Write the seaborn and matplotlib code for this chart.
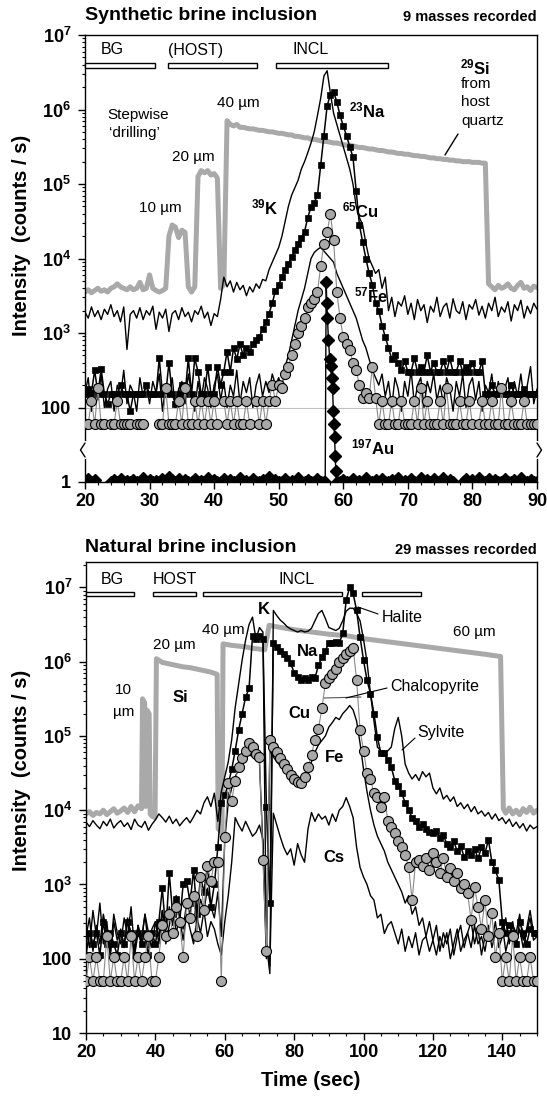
import numpy as np
import matplotlib
matplotlib.use("Agg")
import matplotlib.pyplot as plt
import seaborn as sns
from matplotlib.patches import Rectangle
from matplotlib.lines import Line2D
from matplotlib.ticker import FixedLocator, FixedFormatter, MultipleLocator, LogLocator, NullFormatter

# ---------------------------------------------------------------- data
# Top panel (synthetic brine inclusion): log10 intensities every 0.5 s from 20 s
T0_TOP, DT_TOP = 20.0, 0.5
si_top_log = [
    3.55, 3.58, 3.54, 3.57, 3.60, 3.56, 3.58, 3.55, 3.60, 3.62,
    3.66, 3.62, 3.60, 3.58, 3.62, 3.58, 3.60, 3.68, 3.58, 3.60,
    3.78, 3.60, 3.57, 3.55, 3.57, 3.60, 4.30, 4.45, 4.42, 4.28,
    4.38, 4.35, 3.62, 3.55, 3.62, 5.10, 5.18, 5.15, 5.18, 5.12,
    5.14, 5.08, 3.60, 3.65, 5.85, 5.80, 5.78, 5.80, 5.76, 5.76,
    5.75, 5.74, 5.74, 5.73, 5.72, 5.72, 5.71, 5.70, 5.70, 5.69,
    5.68, 5.68, 5.67, 5.66, 5.66, 5.64, 5.64, 5.63, 5.62, 5.62,
    5.60, 5.60, 5.59, 5.58, 5.57, 5.57, 5.56, 5.55, 5.55, 5.54,
    5.53, 5.52, 5.52, 5.51, 5.50, 5.49, 5.49, 5.48, 5.47, 5.47,
    5.46, 5.45, 5.45, 5.44, 5.43, 5.43, 5.42, 5.41, 5.41, 5.40,
    5.40, 5.39, 5.38, 5.38, 5.37, 5.37, 5.36, 5.35, 5.35, 5.34,
    5.34, 5.33, 5.33, 5.32, 5.32, 5.31, 5.31, 5.30, 5.30, 5.30,
    5.29, 5.29, 5.29, 5.28, 5.28, 3.66, 3.62, 3.58, 3.64, 3.60,
    3.62, 3.66, 3.60, 3.58, 3.64, 3.68, 3.60, 3.62, 3.57, 3.63,
    3.61]
k_top_log = [
    3.28, 3.20, 3.35, 3.22, 3.30, 3.18, 3.32, 3.25, 3.38, 3.22,
    3.30, 3.15, 3.35, 2.78, 3.25, 3.30, 3.20, 3.34, 3.18, 3.30,
    3.24, 3.36, 3.05, 3.28, 3.20, 3.32, 3.02, 3.26, 3.30, 3.18,
    3.34, 3.22, 3.28, 3.15, 3.30, 3.25, 3.36, 3.20, 3.28, 3.10,
    3.26, 3.22, 3.45, 3.75, 3.62, 3.70, 3.55, 3.68, 3.58, 3.64,
    3.50, 3.62, 3.55, 3.66, 3.60, 3.72, 3.70, 3.85, 3.95, 4.05,
    4.15, 4.30, 4.50, 4.70, 4.85, 4.95, 5.05, 5.20, 5.30, 5.42,
    5.55, 5.70, 5.92, 6.15, 6.45, 6.52, 6.22, 5.95, 5.80, 5.65,
    5.50, 5.35, 5.20, 5.00, 4.70, 4.55, 4.45, 4.20, 4.00, 3.90,
    3.80, 3.85, 3.60, 3.75, 3.30, 3.48, 3.22, 3.42, 3.36, 3.50,
    3.25, 3.40, 3.18, 3.45, 3.30, 3.38, 3.14, 3.36, 3.28, 3.48,
    3.22, 3.35, 3.40, 3.20, 3.46, 3.30, 3.26, 3.42, 3.18, 3.38,
    3.32, 3.45, 3.24, 3.36, 3.20, 3.40, 3.30, 3.48, 3.22, 3.35,
    3.28, 3.42, 3.16, 3.38, 3.30, 3.44, 3.20, 3.36, 3.26, 3.40,
    3.32]
na_top_log = [
    2.18, 2.25, 2.20, 2.50, 2.18, 2.52, 2.18, 2.05, 2.18, 2.18,
    2.18, 2.30, 2.18, 2.18, 1.95, 2.18, 2.18, 2.18, 2.18, 2.30,
    2.18, 2.18, 2.18, 2.66, 2.18, 2.18, 2.60, 2.18, 2.05, 2.18,
    2.30, 2.18, 2.66, 2.18, 2.66, 2.48, 2.18, 2.18, 2.55, 2.18,
    2.18, 2.55, 2.30, 2.48, 2.75, 2.48, 2.80, 2.65, 2.85, 2.70,
    2.80, 2.75, 2.85, 2.90, 2.95, 3.05, 3.15, 3.26, 3.40, 3.57,
    3.65, 3.75, 3.85, 3.92, 4.02, 4.11, 4.20, 4.28, 4.36, 4.55,
    4.69, 4.75, 4.85, 5.25, 5.65, 6.05, 6.20, 6.24, 6.10, 5.92,
    5.78, 5.65, 5.50, 5.36, 4.90, 4.45, 4.22, 4.00, 3.80, 3.65,
    3.40, 3.30, 3.10, 2.95, 2.80, 2.65, 2.70, 2.60, 2.50, 2.62,
    2.48, 2.48, 2.66, 2.48, 2.55, 2.48, 2.70, 2.48, 2.60, 2.48,
    2.48, 2.62, 2.48, 2.66, 2.48, 2.48, 2.62, 2.48, 2.55, 2.48,
    2.60, 2.48, 2.48, 2.62, 2.18, 2.18, 2.30, 2.18, 2.18, 2.25,
    2.18, 2.18, 2.30, 2.18, 2.18, 2.18, 2.25, 2.18, 2.18, 2.18,
    2.18]
nan = float("nan")
cu_top_log = [
    1.78, 1.78, 2.09, 1.78, 2.26, 1.78, 1.78, nan, 1.78, 1.78,
    2.09, 1.78, 1.78, 1.78, 1.78, nan, 1.78, 1.78, 1.78, nan,
    nan, nan, nan, 1.78, 1.78, 2.26, 1.78, 1.78, 1.78, 2.09,
    1.78, 2.26, 1.78, 1.78, 2.09, 1.78, 2.09, 1.78, 2.09, 1.78,
    2.09, 1.78, nan, 2.09, 1.78, 2.09, 1.78, 2.09, 1.78, 1.78,
    2.09, 1.78, nan, 2.09, 1.78, 2.09, 1.78, 2.09, 2.30, 2.09,
    2.30, 2.26, 2.45, 2.55, 2.70, 2.85, 3.00, 3.10, 3.20, 3.35,
    3.40, 3.45, 3.55, 3.90, 4.20, 4.35, 4.60, 4.25, 3.55, 3.20,
    2.94, 2.85, 2.77, 2.60, 2.50, 2.30, 2.13, 2.20, 2.13, 2.55,
    2.13, 1.78, 2.09, 1.78, 1.78, 2.09, 1.78, 1.78, 2.09, 1.78,
    1.78, 1.78, 2.09, 1.78, 2.26, 1.78, 2.09, 1.78, 1.78, 1.78,
    2.09, 1.78, 2.26, 1.78, 1.78, 1.78, 2.09, 1.78, 1.78, 2.09,
    1.78, nan, 1.78, 2.09, 1.78, 1.78, 2.09, 1.78, 1.78, 2.26,
    1.78, 1.78, 2.09, 1.78, 1.78, 1.78, 2.09, 1.78, 1.78, 1.78,
    1.78]
fe_top_log = [
    2.20, 2.40, 1.95, 2.30, 2.10, 2.45, 2.00, 2.25, 2.35, 1.95,
    2.30, 2.15, 2.50, 2.05, 2.30, 2.20, 1.95, 2.40, 2.15, 2.30,
    2.05, 2.35, 2.20, 2.45, 1.95, 2.30, 2.15, 2.40, 2.00, 2.25,
    2.35, 2.05, 2.45, 2.20, 1.95, 2.35, 2.10, 2.40, 2.25, 2.00,
    2.30, 2.45, 2.10, 2.35, 2.00, 2.30, 2.15, 2.50, 2.05, 2.35,
    2.20, 2.40, 2.00, 2.30, 2.45, 2.15, 2.35, 2.20, 2.45, 2.30,
    2.40, 2.25, 2.55, 2.70, 2.90, 3.10, 3.30, 3.45, 3.60, 3.80,
    4.00, 4.08, 4.12, 4.15, 4.10, 4.05, 4.00, 3.95, 3.80, 3.70,
    3.60, 3.50, 3.40, 3.30, 3.20, 3.05, 2.90, 2.80, 2.65, 2.50,
    2.40, 2.30, 2.45, 2.15, 2.35, 2.00, 2.40, 2.25, 1.95, 2.35,
    2.15, 2.50, 2.05, 2.30, 2.40, 2.00, 2.35, 2.20, 2.45, 2.10,
    2.30, 2.05, 2.40, 2.25, 1.95, 2.35, 2.15, 2.45, 2.00, 2.30,
    2.40, 2.10, 2.35, 1.95, 2.30, 2.20, 2.45, 2.05, 2.35, 2.15,
    2.25, 2.40, 2.00, 2.35, 2.15, 2.45, 2.10, 2.30, 2.55, 2.05,
    2.25]
au_top_base = [
    1.0, 1.3, 1.0, 1.2, nan, nan, nan, nan, 1.0, 1.2,
    1.0, 1.3, 1.0, 1.1, 1.0, 1.2, 1.0, 1.0, 1.5, 1.0,
    1.2, 1.0, 1.1, 1.0, 1.3, 1.0, 1.6, 1.2, 1.0, 1.3,
    1.0, 1.2, 1.0, 1.0, 1.3, 1.0, 1.1, 1.0, 1.4, 1.0,
    1.2, 1.0, 1.0, 1.3, 1.0, 1.2, 1.0, 1.0, 1.4, 1.0,
    1.1, 1.0, 1.3, 1.0, 1.0, 1.2, 1.0, 1.6, 1.0, 1.2,
    1.0, 1.0, 1.3, 1.0, 1.1, 1.0, 1.4, 1.0, 1.0, 1.2,
    1.0, 1.0, 1.3, 1.0, 1.0, nan, nan, nan, nan, 1.0,
    1.2, 1.0, 1.0, 1.3, 1.0, 1.1, 1.0, 1.4, 1.0, 1.0,
    1.2, 1.0, 1.3, 1.0, 1.0, 1.2, 1.0, 1.4, 1.0, 1.1,
    1.0, 1.3, 1.0, 1.0, 1.4, 1.0, 1.2, 1.0, 1.3, 1.0,
    1.0, 1.4, 1.0, 1.2, 1.0, nan, nan, 1.0, 1.3, 1.0,
    1.2, 1.0, 1.4, 1.0, 1.0, 1.3, 1.0, 1.2, 1.0, 1.0,
    1.3, 1.0, 1.0, 1.2, 1.0, 1.4, 1.0, 1.0, 1.2, 1.0,
    1.0]
au_peak_t = [57.2, 57.35, 57.45, 57.55, 57.7, 57.9, 58.05, 58.2, 58.35, 58.45, 58.55, 58.65, 58.75, 58.85, 59.0]
au_peak = [1, 4800, 2500, 1600, 800, 450, 360, 250, 185, 90, 60, 40, 12, 3, 1]

# Bottom panel (natural brine inclusion): log10 intensities every 1 s from 20 s
T0_BOT, DT_BOT = 20.0, 1.0
si_bot_t = [20, 21, 22, 23, 24, 25, 26, 27, 28, 29, 30, 31, 32, 33, 34, 35,
            36.0, 36.3, 36.9, 37.2, 37.5, 38.2, 38.5, 39.0, 39.9,
            40.3, 41, 42, 44, 46, 48, 50, 52, 54, 56, 57.8,
            58.1, 59.2, 59.5, 62, 64, 66, 68, 70, 71.5,
            72.8, 75, 80, 85, 90, 95, 100, 105, 110, 115, 120, 125, 130, 135, 139.5,
            140.3, 141, 142, 143, 144, 145, 146, 147, 148, 149, 150]
si_bot_log = [3.95, 3.98, 3.93, 3.97, 3.95, 4.00, 3.94, 3.98, 4.02, 3.96, 3.99, 4.03, 3.97, 4.05, 3.98, 4.06,
              4.02, 5.50, 5.45, 4.05, 5.35, 5.30, 3.95, 3.92, 3.90,
              6.04, 6.02, 5.99, 5.97, 5.95, 5.93, 5.92, 5.90, 5.88, 5.86, 5.83,
              3.75, 3.70, 6.24, 6.22, 6.21, 6.20, 6.18, 6.17, 6.16,
              6.49, 6.47, 6.43, 6.40, 6.37, 6.35, 6.31, 6.28, 6.25, 6.22, 6.19, 6.16, 6.13, 6.10, 6.07,
              4.02, 3.96, 4.03, 3.95, 4.00, 3.94, 4.02, 3.97, 4.04, 3.96, 4.00]
k_bot_log = [
    3.84, 3.78, 3.86, 3.80, 3.75, 3.85, 3.79, 3.88, 3.76, 3.82,
    3.86, 3.78, 3.83, 3.74, 3.88, 3.80, 3.77, 3.85, 3.73, 3.81,
    3.87, 3.95, 3.90, 3.84, 3.92, 3.82, 3.88, 3.79, 3.85, 3.90,
    3.83, 3.91, 4.00, 3.95, 4.10, 4.18, 4.05, 4.23, 3.85, 4.25,
    4.45, 4.65, 4.95, 5.38, 5.70, 6.02, 6.29, 6.50, 6.60, 6.30,
    6.46, 6.40, 2.20, 1.80, 6.69, 6.62, 6.56, 6.52, 6.47, 6.44,
    6.42, 6.40, 6.42, 6.40, 6.41, 6.45, 6.55, 6.65, 6.69, 6.58,
    6.46, 6.44, 6.42, 6.45, 6.55, 6.68, 6.72, 6.72, 6.65, 6.55,
    6.30, 6.00, 5.57, 5.20, 4.85, 4.80, 4.77, 4.80, 4.85, 5.10,
    5.25, 5.00, 4.62, 4.50, 4.42, 4.48, 4.40, 4.52, 4.45, 4.50,
    4.30, 4.22, 4.30, 4.15, 4.20, 4.12, 4.18, 4.05, 4.10, 4.02,
    4.08, 3.98, 4.05, 3.95, 3.99, 3.92, 3.97, 3.88, 3.95, 3.86,
    3.90, 3.82, 3.88, 3.78, 3.84, 3.76, 3.82, 3.72, 3.80, 3.75,
    3.78]
na_bot_log = [
    2.05, 2.35, 2.20, 2.35, 2.05, 2.50, 2.20, 2.35, 2.20, 2.05,
    2.35, 2.20, 2.50, 2.35, 2.05, 2.35, 2.20, 2.35, 2.05, 2.35,
    2.20, 2.50, 2.95, 2.35, 3.15, 2.60, 2.80, 2.50, 3.00, 3.05,
    2.75, 3.20, 2.60, 3.10, 2.90, 3.25, 2.70, 3.00, 3.50, 4.10,
    4.20, 4.35, 4.55, 4.80, 5.08, 5.30, 5.52, 5.64, 6.35, 6.30,
    6.35, 6.30, 4.04, 2.75, 6.25, 6.20, 6.15, 6.10, 6.05, 5.98,
    5.85, 5.79, 5.76, 5.78, 5.76, 5.80, 5.78, 5.95, 6.06, 6.15,
    6.25, 6.25, 6.26, 6.25, 6.38, 6.83, 7.00, 6.92, 6.69, 6.33,
    6.02, 5.75, 5.57, 5.30, 4.98, 4.77, 4.77, 4.68, 4.58, 4.40,
    4.32, 4.23, 4.10, 4.00, 3.90, 3.85, 3.77, 3.82, 3.75, 3.70,
    3.69, 3.72, 3.62, 3.66, 3.55, 3.50, 3.58, 3.45, 3.52, 3.37,
    3.45, 3.40, 3.48, 3.35, 3.50, 3.42, 3.60, 3.30, 3.19, 3.06,
    2.50, 2.35, 2.45, 2.35, 2.20, 2.50, 2.35, 2.20, 2.40, 2.35,
    2.35]
cu_bot_log = [
    1.70, 2.02, 1.70, 2.02, 1.70, 1.70, 2.30, 1.70, 2.02, 1.70,
    1.70, 2.02, 1.70, 2.30, 1.70, 2.02, 1.70, 2.02, 2.30, 1.70,
    1.70, 2.02, 2.45, 2.30, 2.60, 2.35, 2.70, 2.50, 2.02, 2.75,
    2.55, 2.85, 2.30, 3.10, 2.65, 3.25, 3.05, 3.30, 3.30, 1.70,
    3.64, 4.36, 4.13, 4.40, 4.58, 4.70, 4.80, 4.90, 4.85, 4.76,
    4.72, 3.33, 2.10, 4.94, 4.85, 4.78, 4.70, 4.62, 4.55, 4.48,
    4.42, 4.38, 4.36, 4.45, 4.58, 4.75, 4.95, 5.10, 5.37, 5.71,
    5.78, 5.84, 5.90, 6.00, 6.05, 6.10, 6.15, 6.19, 5.75, 5.08,
    4.80, 4.50, 4.42, 4.23, 4.18, 4.04, 4.18, 3.86, 3.78, 3.69,
    3.58, 3.50, 3.40, 3.23, 2.79, 3.30, 3.33, 3.25, 3.36, 3.20,
    3.42, 3.30, 3.15, 3.36, 3.10, 3.22, 3.05, 3.15, 2.95, 3.00,
    2.88, 2.52, 2.96, 2.70, 2.40, 2.79, 2.30, 2.61, 2.02, 2.34,
    1.70, 2.02, 1.70, 2.30, 1.70, 2.02, 1.70, 1.70, 2.02, 1.70,
    1.70]
fe_bot_log = [
    2.30, 2.55, 2.10, 2.45, 2.20, 2.60, 2.35, 2.05, 2.50, 2.25,
    2.40, 2.15, 2.55, 2.30, 2.05, 2.45, 2.25, 2.60, 2.15, 2.40,
    2.50, 2.20, 2.65, 2.35, 2.70, 2.45, 2.85, 2.55, 2.40, 2.75,
    2.60, 2.90, 2.50, 2.80, 2.65, 2.95, 2.70, 2.55, 2.90, 2.30,
    3.60, 4.10, 4.30, 4.45, 4.55, 4.62, 4.70, 4.75, 4.72, 4.68,
    4.65, 3.50, 2.00, 4.80, 4.72, 4.65, 4.60, 4.55, 4.50, 4.45,
    4.40, 4.35, 4.38, 4.45, 4.55, 4.65, 4.78, 4.88, 4.94, 5.00,
    5.12, 5.18, 5.25, 5.22, 5.30, 5.35, 5.41, 5.35, 5.20, 4.90,
    4.55, 4.25, 4.00, 3.80, 3.65, 3.55, 3.45, 3.30, 3.20, 3.10,
    3.00, 2.90, 2.75, 2.85, 2.60, 2.70, 2.45, 2.55, 2.30, 2.50,
    2.25, 2.45, 2.10, 2.35, 2.20, 2.40, 2.05, 2.30, 2.45, 2.15,
    2.35, 2.50, 2.20, 2.40, 2.05, 2.30, 2.45, 2.15, 2.35, 2.25,
    2.45, 2.10, 2.30, 2.50, 2.20, 2.40, 2.15, 2.35, 2.55, 2.25,
    2.30]
cs_bot_log = [
    2.40, 2.15, 2.65, 2.30, 2.75, 2.20, 2.50, 2.05, 2.60, 2.35,
    2.20, 2.55, 2.30, 2.70, 2.10, 2.45, 2.25, 2.60, 2.35, 2.15,
    2.50, 2.30, 2.65, 2.20, 2.45, 2.70, 2.35, 2.55, 2.25, 2.60,
    2.40, 2.20, 2.55, 2.35, 2.65, 2.30, 2.50, 2.40, 2.20, 2.05,
    2.50, 2.85, 3.30, 3.90, 3.80, 3.72, 3.85, 3.75, 3.65, 3.70,
    3.80, 3.60, 2.20, 1.90, 3.96, 3.80, 3.64, 3.50, 3.40, 3.48,
    3.26, 3.55, 3.40, 3.30, 3.75, 3.97, 3.85, 3.95, 3.88, 3.92,
    3.80, 3.95, 3.85, 4.00, 4.05, 4.17, 4.05, 3.90, 3.50, 3.23,
    3.10, 3.00, 2.85, 2.79, 2.55, 2.60, 2.34, 2.45, 2.50, 2.35,
    2.20, 2.40, 2.10, 2.30, 2.15, 2.35, 2.05, 2.25, 2.30, 2.10,
    2.25, 2.05, 2.30, 2.15, 2.35, 2.00, 2.20, 2.40, 2.10, 2.25,
    2.35, 2.15, 2.45, 2.20, 2.30, 2.10, 2.40, 2.25, 2.50, 2.15,
    2.30, 2.55, 2.20, 2.45, 2.35, 2.60, 2.25, 2.40, 2.65, 2.35,
    2.30]

# signal interval bars (start, end in s)
top_bar_start = [20.0, 32.9, 49.6]
top_bar_end = [30.8, 46.6, 67.0]
top_bar_labels = ["BG", "(HOST)", "INCL"]
bot_bar_start = [20.0, 39.3, 53.7, 99.5]
bot_bar_end = [33.8, 51.7, 93.8, 116.5]
bot_bar_labels = ["BG", "HOST", "INCL"]

# ---------------------------------------------------------------- style
sns.set_theme(style="ticks", rc={"axes.edgecolor": "black", "text.color": "black",
                                 "xtick.color": "black", "ytick.color": "black",
                                 "axes.labelcolor": "black"})
plt.rcParams["font.family"] = ["Liberation Sans", "DejaVu Sans"]
plt.rcParams["font.weight"] = "bold"
plt.rcParams["mathtext.fontset"] = "custom"
plt.rcParams["mathtext.rm"] = "Liberation Sans"
plt.rcParams["mathtext.bf"] = "Liberation Sans:bold"
plt.rcParams["mathtext.it"] = "Liberation Sans:italic"
plt.rcParams["axes.linewidth"] = 1.0

W, H = 547, 1108
fig = plt.figure(figsize=(W / 100, H / 100), dpi=100)
fig.patch.set_facecolor("white")


def px_axes(l, t, r, b):
    return fig.add_axes([l / W, 1 - b / H, (r - l) / W, (b - t) / H])


def ftext(px, py, s, ha="left", va="center", size=11, weight="normal", **kw):
    fig.text(px / W, 1 - py / H, s, ha=ha, va=va, fontsize=size, fontweight=weight, **kw)


def fline(xs, ys, **kw):
    fig.lines.append(Line2D([x / W for x in xs], [1 - y / H for y in ys],
                            transform=fig.transFigure, **kw))


SI_C = "#a9a9a9"
CU_FACE = "#a8a8a8"

# broken log scale for top panel (1 ... 30 compressed)
B = 30.0
LB = np.log10(B)


def fwd(y):
    y = np.asarray(y, float)
    with np.errstate(divide="ignore", invalid="ignore"):
        ly = np.log10(np.where(y > 0, y, np.nan))
        return np.where(ly >= LB, ly, 1.0 + ly * (LB - 1.0) / LB)


def inv(u):
    u = np.asarray(u, float)
    with np.errstate(over="ignore"):
        return np.where(u >= LB, 10.0 ** u, 10.0 ** ((u - 1.0) * LB / (LB - 1.0)))


def lin(a):
    return 10.0 ** np.asarray(a, float)


# ---------------------------------------------------------------- top panel
ax1 = px_axes(85, 35, 537, 482)
ax1.set_yscale("function", functions=(fwd, inv))
tt = T0_TOP + DT_TOP * np.arange(len(si_top_log))

ax1.axhline(100, color="#c0c0c0", lw=0.8, zorder=0.5)
sns.lineplot(x=tt, y=lin(si_top_log), ax=ax1, color=SI_C, lw=3.6, estimator=None, sort=False, zorder=1)
sns.lineplot(x=tt, y=lin(k_top_log), ax=ax1, color="black", lw=1.0, estimator=None, sort=False, zorder=2)
sns.lineplot(x=tt, y=lin(fe_top_log), ax=ax1, color="black", lw=1.0, estimator=None, sort=False, zorder=2)
sns.lineplot(x=tt, y=lin(na_top_log), ax=ax1, color="black", lw=1.1, marker="s", markersize=4.2,
             markerfacecolor="black", markeredgecolor="black", markeredgewidth=0.5,
             estimator=None, sort=False, zorder=3)
ax1.plot(tt, lin(cu_top_log), color="#8a8a8a", lw=0.8, marker="o", ms=7.2, mfc=CU_FACE,
         mec="black", mew=0.8, zorder=4)
ax1.plot(tt, np.asarray(au_top_base, float), color="black", lw=1.0, marker="D", ms=6.5,
         mfc="black", mec="black", zorder=5)
ax1.plot(au_peak_t, au_peak, color="black", lw=1.0, marker="D", ms=6.5, mfc="black", mec="black", zorder=5)

for s0, s1 in zip(top_bar_start, top_bar_end):
    ax1.add_patch(Rectangle((s0, 3.6e6), s1 - s0, 0.6e6, facecolor="white", edgecolor="black",
                            lw=1.0, zorder=6, clip_on=False))

ax1.set_xlim(20, 90)
ax1.set_ylim(1, 1e7)
ax1.xaxis.set_major_locator(MultipleLocator(10))
ax1.xaxis.set_minor_locator(MultipleLocator(2))
ax1.yaxis.set_major_locator(FixedLocator([1, 100, 1e3, 1e4, 1e5, 1e6, 1e7]))
ax1.yaxis.set_major_formatter(FixedFormatter(["1", "100", r"$\mathbf{10^{3}}$", r"$\mathbf{10^{4}}$",
                                              r"$\mathbf{10^{5}}$", r"$\mathbf{10^{6}}$", r"$\mathbf{10^{7}}$"]))
ax1.yaxis.set_minor_locator(FixedLocator([k * 10 ** d for d in range(2, 7) for k in range(2, 10)]))
ax1.yaxis.set_minor_formatter(NullFormatter())

# ---------------------------------------------------------------- bottom panel
ax2 = px_axes(86, 562, 537, 1033)
ax2.set_yscale("log")
tb = T0_BOT + DT_BOT * np.arange(len(k_bot_log))

sns.lineplot(x=si_bot_t, y=lin(si_bot_log), ax=ax2, color=SI_C, lw=3.6, estimator=None, sort=False, zorder=1)
sns.lineplot(x=tb, y=lin(cs_bot_log), ax=ax2, color="black", lw=1.0, estimator=None, sort=False, zorder=2)
sns.lineplot(x=tb, y=lin(fe_bot_log), ax=ax2, color="black", lw=1.0, estimator=None, sort=False, zorder=2)
sns.lineplot(x=tb, y=lin(k_bot_log), ax=ax2, color="black", lw=1.0, estimator=None, sort=False, zorder=2)
sns.lineplot(x=tb, y=lin(na_bot_log), ax=ax2, color="black", lw=1.1, marker="s", markersize=4.2,
             markerfacecolor="black", markeredgecolor="black", markeredgewidth=0.5,
             estimator=None, sort=False, zorder=3)
ax2.plot(tb, lin(cu_bot_log), color="#8a8a8a", lw=0.8, marker="o", ms=7.2, mfc=CU_FACE,
         mec="black", mew=0.8, zorder=4)

for s0, s1 in zip(bot_bar_start, bot_bar_end):
    ax2.add_patch(Rectangle((s0, 7.6e6), s1 - s0, 1.2e6, facecolor="white", edgecolor="black",
                            lw=1.0, zorder=6, clip_on=False))

ax2.set_xlim(20, 150)
ax2.set_ylim(10, 2.2e7)
ax2.xaxis.set_major_locator(MultipleLocator(20))
ax2.xaxis.set_minor_locator(MultipleLocator(5))
ax2.yaxis.set_major_locator(FixedLocator([10, 100, 1e3, 1e4, 1e5, 1e6, 1e7]))
ax2.yaxis.set_major_formatter(FixedFormatter(["10", "100", r"$\mathbf{10^{3}}$", r"$\mathbf{10^{4}}$",
                                              r"$\mathbf{10^{5}}$", r"$\mathbf{10^{6}}$", r"$\mathbf{10^{7}}$"]))
ax2.yaxis.set_minor_locator(LogLocator(base=10, subs=np.arange(2, 10)))
ax2.yaxis.set_minor_formatter(NullFormatter())

for ax in (ax1, ax2):
    for sp in ax.spines.values():
        sp.set_visible(True)
        sp.set_linewidth(1.0)
        sp.set_color("black")
    ax.set_facecolor("white")
    ax.grid(False)
    ax.set_xlabel("")
    ax.set_ylabel("")
    ax.tick_params(axis="both", which="major", direction="out", length=5, width=1.0,
                   labelsize=13, top=False, right=False)
    ax.tick_params(axis="both", which="minor", direction="out", length=2.5, width=0.8,
                   top=False, right=False)
    ax.tick_params(axis="x", which="major", pad=3)
    ax.tick_params(axis="y", which="major", pad=5)
    for lbl in ax.get_xticklabels() + ax.get_yticklabels():
        lbl.set_fontweight("bold")

# axis break marks on top panel
fline([85, 85], [443, 457], color="white", lw=3, zorder=10)
fline([85, 80.5, 85], [443, 450, 457], color="black", lw=1.0, zorder=11)
fline([537, 537], [443, 457], color="white", lw=3, zorder=10)
fline([537, 541.5, 537], [443, 450, 457], color="black", lw=1.0, zorder=11)

# ---------------------------------------------------------------- texts: top
ftext(85, 16, "Synthetic brine inclusion", size=14, weight="bold")
ftext(537, 17, "9 masses recorded", ha="right", size=10.5, weight="bold")
for lbl, x0 in zip(top_bar_labels, [101, 168, 293]):
    ftext(x0, 50, lbl, size=11.5)
ftext(460, 67, r"${}^{\mathbf{29}}\mathbf{Si}$", size=12)
ftext(461, 84, "from", size=11)
ftext(461, 102, "host", size=11)
ftext(461, 121, "quartz", size=11)
fline([458, 445], [134, 155], color="black", lw=1.0)
ftext(107, 115, "Stepwise", size=11)
ftext(109, 133, "\u2018drilling\u2019", size=11)
ftext(160, 208, "10 \u00b5m", ha="center", size=11)
ftext(193, 157, "20 \u00b5m", ha="center", size=11)
ftext(238, 103, "40 \u00b5m", ha="center", size=11)
ftext(251, 207, r"${}^{\mathbf{39}}\mathbf{K}$", size=12)
ftext(349, 110, r"${}^{\mathbf{23}}\mathbf{Na}$", size=12)
ftext(342, 210, r"${}^{\mathbf{65}}\mathbf{Cu}$", size=12)
ftext(354, 295, r"${}^{\mathbf{57}}\mathbf{Fe}$", size=12)
ftext(351, 447, r"${}^{\mathbf{197}}\mathbf{Au}$", size=12)
ftext(22, 235, "Intensity  (counts / s)", ha="center", size=14.5, weight="bold", rotation=90)

# ---------------------------------------------------------------- texts: bottom
ftext(85, 548, "Natural brine inclusion", size=14, weight="bold")
ftext(537, 550, "29 masses recorded", ha="right", size=10.5, weight="bold")
for lbl, x0 in zip(bot_bar_labels, [101, 153, 278]):
    ftext(x0, 580, lbl, size=11.5)
ftext(123, 690, "10", ha="center", size=11)
ftext(124, 712, "\u00b5m", ha="center", size=11)
ftext(153, 645, "20 \u00b5m", size=11)
ftext(202, 630, "40 \u00b5m", size=11)
ftext(453, 632, "60 \u00b5m", size=11)
ftext(173, 697, "Si", size=12, weight="bold")
ftext(258, 610, "K", size=12, weight="bold")
ftext(297, 652, "Na", size=12, weight="bold")
ftext(288, 713, "Cu", size=12, weight="bold")
ftext(325, 757, "Fe", size=12, weight="bold")
ftext(323, 857, "Cs", size=12, weight="bold")
ftext(382, 618, "Halite", size=11.5)
fline([358, 378], [607, 614], color="black", lw=0.8)
ftext(390, 687, "Chalcopyrite", size=11.5)
fline([324, 361], [698, 697], color="#555555", lw=0.8)
fline([346, 387], [698, 688], color="black", lw=0.8)
ftext(417, 733, "Sylvite", size=11.5)
fline([402, 415], [750, 738], color="black", lw=0.8)
ftext(22, 770, "Intensity  (counts / s)", ha="center", size=14.5, weight="bold", rotation=90)
ftext(311, 1080, "Time (sec)", ha="center", size=14.5, weight="bold")

fig.savefig("out.png", dpi=100, facecolor="white")
